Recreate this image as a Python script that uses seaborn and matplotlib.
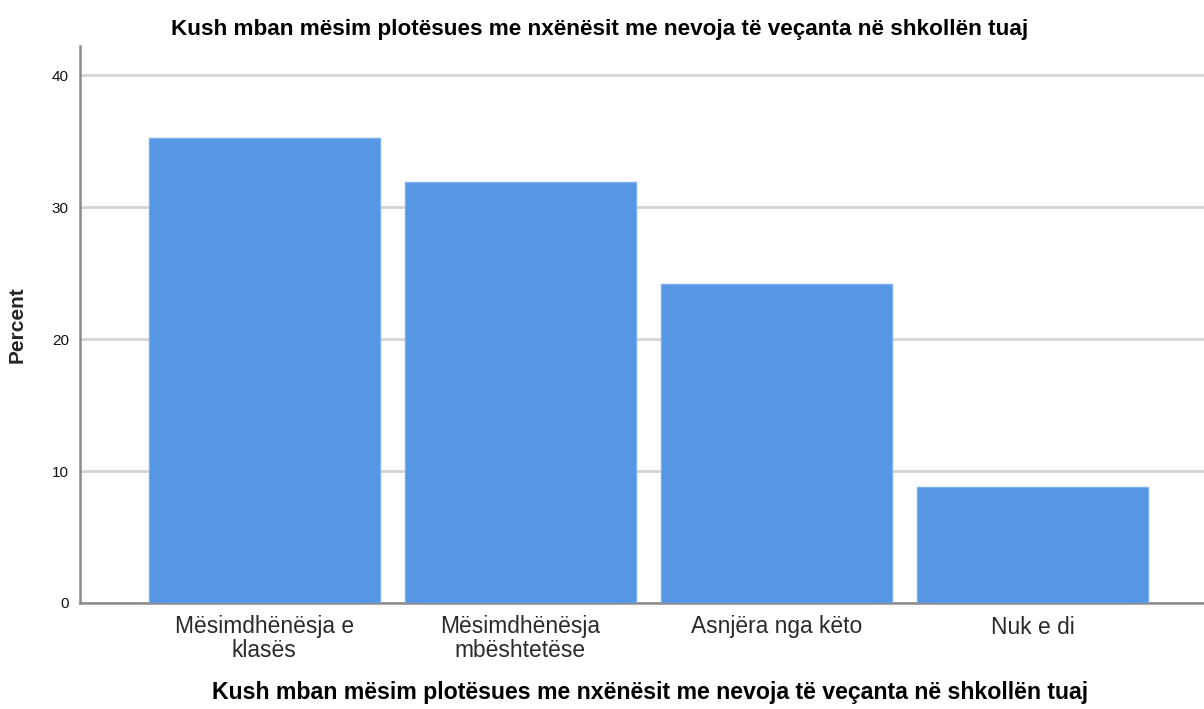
import matplotlib
matplotlib.use("Agg")
import matplotlib.pyplot as plt
import seaborn as sns
import pandas as pd

# Data
categories = ["Mësimdhënësja e\nklasës", "Mësimdhënësja\nmbështetëse", "Asnjëra nga këto", "Nuk e di"]
percent = [35.2, 31.9, 24.2, 8.8]
title = "Kush mban mësim plotësues me nxënësit me nevoja të veçanta në shkollën tuaj"

df = pd.DataFrame({"category": categories, "percent": percent})

sns.set_theme(style="white")
plt.rcParams["font.family"] = ["Liberation Sans", "DejaVu Sans"]

fig = plt.figure(figsize=(12.04, 7.09), dpi=100)
ax = fig.add_axes([80 / 1204, 106 / 709, 1 - 80 / 1204, (603 - 46) / 709])

sns.barplot(data=df, x="category", y="percent", color="#5596e5", saturation=1,
            width=0.9, edgecolor="#7aaef0", linewidth=1, ax=ax, zorder=3)

ax.set_xlim(-0.72, 3.67)
ax.set_ylim(0, 42.2)
ax.set_yticks([0, 10, 20, 30, 40])
ax.yaxis.grid(True, color="#d4d4d4", linewidth=2, zorder=0)
ax.set_axisbelow(True)

for side in ["top", "right"]:
    ax.spines[side].set_visible(False)
for side in ["left", "bottom"]:
    ax.spines[side].set_color("#8a8a8a")
    ax.spines[side].set_linewidth(1.8)

ax.tick_params(axis="y", length=0, pad=8, labelsize=11, labelcolor="#111111")
ax.tick_params(axis="x", length=0, pad=9, labelsize=16.4, labelcolor="#2a2a2a")
for lbl in ax.get_xticklabels():
    lbl.set_linespacing(1.05)

ax.set_xlabel("")
ax.set_ylabel("Percent", fontsize=15, fontweight="bold", labelpad=18)

# chart title and x-axis title
fig.text(600 / 1204, 1 - 30 / 709, title, ha="center", va="center",
         fontsize=16.2, fontweight="bold", color="black")
fig.text(650 / 1204, 1 - 693 / 709, title, ha="center", va="center",
         fontsize=16.7, fontweight="bold", color="black")

fig.savefig("out.png", dpi=100)
